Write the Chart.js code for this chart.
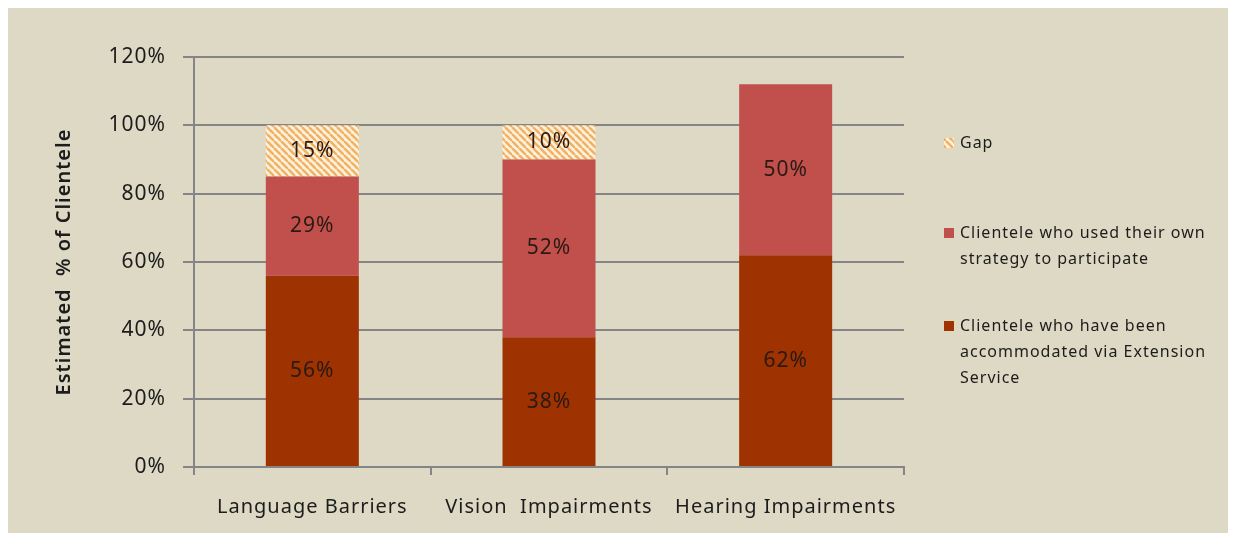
<!DOCTYPE html>
<html>
<head>
<meta charset="utf-8">
<script src="https://cdn.jsdelivr.net/npm/chart.js@4.4.0/dist/chart.umd.min.js"></script>
<style>
    html, body { margin: 0; padding: 0; background: #fff; }
    #panel { position: absolute; left: 8px; top: 8px; width: 1220px; height: 525px; background: #ddd9c4; }
</style>
</head>
<body>
<div id="panel"><canvas id="chart" width="1220" height="525"></canvas></div>
<script>
const categories = ['Language Barriers', 'Vision  Impairments', 'Hearing Impairments'];
const accommodated = [56, 38, 62];
const ownStrategy = [29, 52, 50];
const gap = [15, 10, null];
const yMin = 0, yMax = 120, yStep = 20;

const nameAccommodated = ['Clientele who have been', 'accommodated via Extension', 'Service'];
const nameOwnStrategy = ['Clientele who used their own', 'strategy to participate'];
const nameGap = ['Gap'];

const FONT = '"Noto Sans", sans-serif';
const GRID = '#858585';
const TEXT = '#1c1c1c';

const ctx = document.getElementById('chart').getContext('2d');

function makeHatch() {
    const c = document.createElement('canvas');
    c.width = 7; c.height = 7;
    const g = c.getContext('2d');
    g.fillStyle = '#fbf1dc';
    g.fillRect(0, 0, 7, 7);
    g.strokeStyle = '#f3b061';
    g.lineWidth = 2.4;
    for (let o = -7; o <= 7; o += 7) {
        g.beginPath();
        g.moveTo(o, 0);
        g.lineTo(o + 7, 7);
        g.stroke();
    }
    return ctx.createPattern(c, 'repeat');
}
const hatch = makeHatch();

// the original text is set quite loose
const spacing = {
    id: 'spacing',
    beforeUpdate(chart) { chart.ctx.letterSpacing = '1px'; },
    beforeDraw(chart) { chart.ctx.letterSpacing = '1px'; }
};

// value labels in the middle of each segment
const valueLabels = {
    id: 'valueLabels',
    afterDatasetsDraw(chart) {
        const c = chart.ctx;
        c.save();
        c.font = '21px ' + FONT;
        c.fillStyle = '#2a1a14';
        c.textAlign = 'center';
        c.textBaseline = 'middle';
        chart.data.datasets.forEach((ds, i) => {
            chart.getDatasetMeta(i).data.forEach((bar, j) => {
                const v = ds.data[j];
                if (v == null) return;
                c.fillText(v + '%', bar.x, (bar.y + bar.base) / 2);
            });
        });
        c.restore();
    }
};

// legend on the right, wrapped labels, reversed order
const sideLegend = {
    id: 'sideLegend',
    afterDraw(chart) {
        const c = chart.ctx;
        const area = chart.chartArea;
        const iconX = area.right + 40;
        const textX = area.right + 56;
        const rows = [86, 176, 269];
        const lineH = 26;
        const items = chart.data.datasets.slice().reverse();
        c.save();
        c.font = '16px ' + FONT;
        c.textBaseline = 'middle';
        items.forEach((ds, k) => {
            const y0 = area.top + rows[k];
            c.fillStyle = ds.backgroundColor;
            c.fillRect(iconX, y0 - 5, 10, 10);
            c.fillStyle = TEXT;
            ds.legendLines.forEach((line, n) => {
                c.fillText(line, textX, y0 + n * lineH);
            });
        });
        c.restore();
    }
};

new Chart(ctx, {
    type: 'bar',
    data: {
        labels: categories,
        datasets: [
            {
                label: nameAccommodated.join(' '),
                legendLines: nameAccommodated,
                data: accommodated,
                backgroundColor: '#9e3200'
            },
            {
                label: nameOwnStrategy.join(' '),
                legendLines: nameOwnStrategy,
                data: ownStrategy,
                backgroundColor: '#c14f4c'
            },
            {
                label: nameGap.join(' '),
                legendLines: nameGap,
                data: gap,
                backgroundColor: hatch
            }
        ]
    },
    options: {
        responsive: false,
        animation: false,
        layout: {
            padding: { left: 40, top: 49, right: 324, bottom: 0 }
        },
        datasets: {
            bar: { categoryPercentage: 1, barPercentage: 0.393 }
        },
        plugins: {
            legend: { display: false },
            tooltip: { enabled: false }
        },
        scales: {
            x: {
                stacked: true,
                grid: {
                    display: true,
                    drawOnChartArea: false,
                    offset: true,
                    tickLength: 8,
                    color: GRID,
                    lineWidth: 2
                },
                border: { display: true, color: GRID, width: 2 },
                ticks: {
                    color: TEXT,
                    padding: 20,
                    font: { family: FONT, size: 20 }
                },
                afterFit: (scale) => { scale.height = 66; }
            },
            y: {
                stacked: true,
                min: yMin,
                max: yMax,
                grid: {
                    color: GRID,
                    lineWidth: 2,
                    tickLength: 11
                },
                border: { display: true, color: GRID, width: 2 },
                ticks: {
                    stepSize: yStep,
                    color: TEXT,
                    padding: 17,
                    font: { family: FONT, size: 21 },
                    callback: (v) => v + '%'
                },
                title: {
                    display: true,
                    text: 'Estimated  % of Clientele',
                    color: TEXT,
                    padding: 4,
                    font: { family: FONT, size: 20, weight: '600' }
                },
                afterFit: (scale) => { scale.width = 146; }
            }
        }
    },
    plugins: [spacing, valueLabels, sideLegend]
});
</script>
</body>
</html>
